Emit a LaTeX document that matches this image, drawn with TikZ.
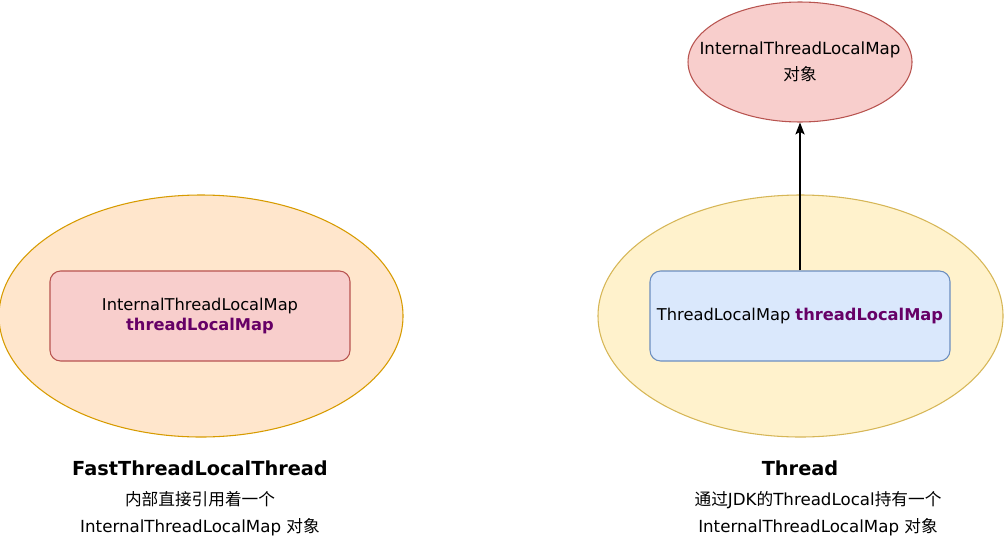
\documentclass[tikz,border=0pt]{standalone}
\usepackage{fontspec}
\setmainfont{DejaVu Sans}
\newfontfamily\cjk{Noto Sans CJK SC}
\usetikzlibrary{arrows.meta,shapes.geometric}
\definecolor{orfill}{HTML}{FFE6CC}
\definecolor{ordraw}{HTML}{D79B00}
\definecolor{yefill}{HTML}{FFF2CC}
\definecolor{yedraw}{HTML}{D6B656}
\definecolor{refill}{HTML}{F8CECC}
\definecolor{redraw}{HTML}{B85450}
\definecolor{blfill}{HTML}{DAE8FC}
\definecolor{bldraw}{HTML}{6C8EBF}
\definecolor{purp}{HTML}{660066}
\begin{document}
\begin{tikzpicture}[x=0.75pt,y=-0.75pt,
  bigell/.style={ellipse, draw, line width=0.8pt, minimum width=404*0.75pt, minimum height=242*0.75pt, inner sep=0pt},
  box/.style={draw, rounded corners=8pt, line width=0.8pt, minimum width=300*0.75pt, minimum height=90*0.75pt, align=center, font=\fontsize{12.2}{15}\selectfont},
  title/.style={font=\fontsize{14.5}{17}\selectfont\bfseries},
  sub/.style={font=\fontsize{12.5}{20}\selectfont, align=center}]
\useasboundingbox (0,0) rectangle (1005,539);
\node[bigell, fill=orfill, draw=ordraw] (lell) at (201,316) {};
\node[bigell, fill=yefill, draw=yedraw, minimum width=405*0.75pt] (rell) at (800.5,316) {};
\node[box, fill=refill, draw=redraw] (lbox) at (200,316) {InternalThreadLocalMap\\\textcolor{purp}{\bfseries threadLocalMap}};
\node[box, fill=blfill, draw=bldraw] (rbox) at (800,316) {ThreadLocalMap \textcolor{purp}{\bfseries threadLocalMap}};
\node[ellipse, draw=redraw, fill=refill, line width=0.8pt, minimum width=224*0.75pt, minimum height=120*0.75pt, inner sep=0pt] (obj) at (800,62) {};
\node[align=center, font=\fontsize{12.5}{19.5}\selectfont] (objtext) at (obj.center) {InternalThreadLocalMap\\{\cjk 对象}};
\draw[-{Stealth[length=9pt,width=7pt,inset=2pt]}, line width=0.8pt] (rbox.north) -- (obj.south);
\node[title] (lt) at (200,468) {FastThreadLocalThread};
\node[sub] (ls) at (200,514) {{\cjk 内部直接引用着一个}\\InternalThreadLocalMap {\cjk 对象}};
\node[title] (rt) at (800,468) {Thread};
\node[sub] (rs) at (818,514) {{\cjk 通过}JDK{\cjk 的}ThreadLocal{\cjk 持有一个}\\InternalThreadLocalMap {\cjk 对象}};
\end{tikzpicture}
\end{document}
